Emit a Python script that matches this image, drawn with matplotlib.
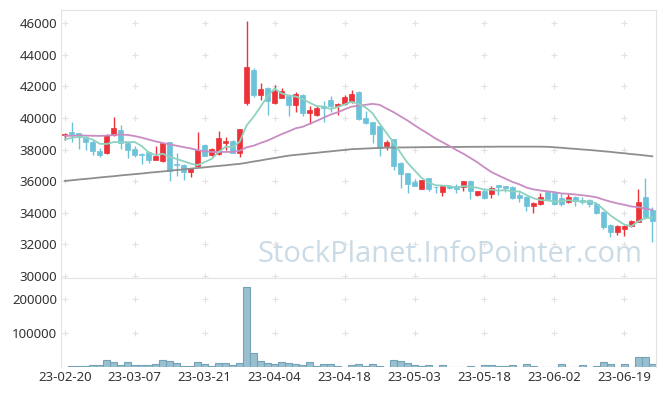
import numpy as np
import pandas as pd
import matplotlib
matplotlib.use('Agg')
import matplotlib.pyplot as plt

dates = ['23-02-20', '23-02-21', '23-02-22', '23-02-23', '23-02-24', '23-02-27', '23-02-28',
         '23-03-02', '23-03-03', '23-03-06', '23-03-07', '23-03-08', '23-03-09', '23-03-10',
         '23-03-13', '23-03-14', '23-03-15', '23-03-16', '23-03-17', '23-03-20', '23-03-21',
         '23-03-22', '23-03-23', '23-03-24', '23-03-27', '23-03-28', '23-03-29', '23-03-30',
         '23-03-31', '23-04-03', '23-04-04', '23-04-05', '23-04-06', '23-04-07', '23-04-10',
         '23-04-11', '23-04-12', '23-04-13', '23-04-14', '23-04-17', '23-04-18', '23-04-19',
         '23-04-20', '23-04-21', '23-04-24', '23-04-25', '23-04-26', '23-04-27', '23-04-28',
         '23-05-02', '23-05-03', '23-05-04', '23-05-08', '23-05-09', '23-05-10', '23-05-11',
         '23-05-12', '23-05-15', '23-05-16', '23-05-17', '23-05-18', '23-05-19', '23-05-22',
         '23-05-23', '23-05-24', '23-05-25', '23-05-26', '23-05-30', '23-05-31', '23-06-01',
         '23-06-02', '23-06-05', '23-06-07', '23-06-08', '23-06-09', '23-06-12', '23-06-13',
         '23-06-14', '23-06-15', '23-06-16', '23-06-19', '23-06-20', '23-06-21', '23-06-22',
         '23-06-23']

opens = [38900, 39100, 39040, 38800, 38500, 37920, 37800, 38930, 39250, 38450,
         38050, 37750, 37830, 37350, 37300, 38480, 37070, 37010, 36610, 36970,
         38300, 37680, 37730, 38400, 38570, 37780, 40950, 43050, 41460, 41920,
         40980, 41290, 41420, 40830, 41460, 40340, 40200, 40760, 41120, 40780,
         40880, 41040, 41670, 40030, 39730, 39500, 38230, 38680, 37160, 36520,
         35980, 35540, 36190, 35660, 35340, 35720, 35720, 35660, 36020, 35120,
         35390, 35200, 35770, 35700, 35620, 35130, 35000, 34460, 34560, 35340,
         35280, 34920, 34710, 35000, 34820, 34800, 34560, 34040, 33230, 32810,
         33000, 33170, 33450, 35020, 34180]
highs = [39050, 39770, 39060, 38850, 38600, 38100, 39000, 40050, 39550, 38500,
         38200, 37780, 37900, 38250, 38450, 38500, 37810, 37080, 36870, 39100,
         38350, 38100, 39180, 38780, 38600, 39330, 46150, 43150, 42200, 41950,
         42100, 41890, 41450, 41630, 41500, 40790, 40750, 41080, 41400, 40950,
         41450, 41760, 41700, 40450, 39750, 39550, 38620, 38700, 37200, 36550,
         36130, 36100, 36220, 35700, 35720, 35780, 35800, 36030, 36050, 35400,
         35560, 35700, 35790, 35720, 35680, 35300, 35050, 34700, 35240, 35400,
         35400, 35240, 35180, 35050, 35020, 34900, 34600, 34100, 33300, 33200,
         33250, 33550, 35500, 36190, 34400]
lows = [38600, 38510, 38020, 38000, 37660, 37530, 37720, 38880, 38050, 37500,
        37520, 37100, 37140, 37330, 37250, 36020, 36350, 36050, 36250, 36900,
        37580, 37620, 37650, 38000, 37800, 37560, 40830, 41350, 41150, 40200,
        40870, 41250, 40150, 40370, 40150, 39610, 40150, 39740, 40400, 40200,
        40800, 40950, 39900, 39600, 38400, 37600, 37960, 36720, 35560, 35240,
        35700, 35480, 35400, 35240, 35070, 35500, 35240, 35390, 34880, 35050,
        34900, 34960, 35130, 35340, 34850, 34710, 34140, 34010, 34500, 34850,
        34500, 34440, 34650, 34440, 34550, 34400, 33950, 32980, 32490, 32600,
        32540, 33100, 33400, 33700, 32180]
closes = [39000, 38990, 38780, 38470, 37940, 37680, 38930, 39400, 38400, 38000,
          37680, 37650, 37350, 37600, 38420, 36680, 37010, 36610, 36840, 37980,
          37620, 38040, 38760, 38570, 37810, 39310, 43250, 41460, 41840, 41080,
          41720, 41710, 40830, 41500, 40300, 40510, 40660, 40660, 40770, 40890,
          41340, 41500, 39950, 39710, 39010, 38090, 38490, 36970, 36460, 35830,
          35720, 36080, 35500, 35620, 35700, 35600, 35540, 36020, 35390, 35390,
          34960, 35600, 35660, 35600, 34960, 34960, 34460, 34650, 35000, 34880,
          34560, 34560, 35000, 34750, 34710, 34550, 34010, 33130, 32810, 33170,
          33170, 33490, 34670, 33760, 33490]
volumes = [2000, 5000, 5000, 5000, 8000, 8000, 21600, 16700, 8000, 16700,
           8000, 8000, 8000, 10800, 22500, 19600, 13700, 5000, 5000, 16700,
           10800, 5000, 13700, 13700, 8000, 13700, 237000, 43000, 19600, 13700,
           10800, 16700, 13700, 10800, 8000, 16700, 5000, 10800, 10800, 5000,
           2000, 7000, 10000, 5000, 10000, 5000, 2000, 21600, 19600, 13700,
           8000, 5000, 7000, 2000, 7000, 2000, 800, 2000, 5000, 2000,
           7000, 7000, 5000, 5000, 7000, 2000, 10000, 5000, 2000, 2000,
           2000, 10000, 2000, 800, 7000, 2000, 5000, 16700, 10000, 2000,
           10000, 2000, 31400, 31400, 10000]

# moving averages: first days depend on closes before the window
ma5_head = [38650, 38750, 38820, 38760]
ma20_head = [38870, 38880, 38900, 38890, 38880, 38870, 38890, 38930, 38960, 38930,
             38860, 38760, 38640, 38520, 38420, 38330, 38250, 38160, 38080]
ma120 = [36020, 36060, 36110, 36150, 36190, 36240, 36280, 36320, 36370, 36410,
         36450, 36490, 36540, 36580, 36620, 36670, 36710, 36750, 36800, 36840,
         36880, 36930, 36970, 37010, 37060, 37100, 37170, 37250, 37320, 37400,
         37470, 37550, 37620, 37670, 37710, 37760, 37800, 37850, 37890, 37940,
         37980, 38030, 38050, 38070, 38090, 38110, 38130, 38135, 38140, 38145,
         38150, 38155, 38160, 38165, 38170, 38170, 38170, 38175, 38180, 38180,
         38185, 38185, 38190, 38190, 38190, 38190, 38190, 38190, 38190, 38180,
         38150, 38120, 38080, 38050, 38010, 37980, 37940, 37900, 37860, 37810,
         37770, 37720, 37680, 37630, 37580]

c = pd.Series(closes, dtype=float)
ma5 = c.rolling(5).mean().values
ma5[:4] = ma5_head
ma20 = c.rolling(20).mean().values
ma20[:19] = ma20_head

x = np.arange(len(dates))
o = np.array(opens)
cl = np.array(closes)
up = cl >= o

red = '#ec3239'
blue = '#6cc3d9'
plt.rcParams['font.family'] = ['Noto Sans', 'DejaVu Sans']

fig = plt.figure(figsize=(6.65, 3.96), dpi=100)
ax = fig.add_axes([0.0922, 0.2972, 0.8940, 0.6768])
axv = fig.add_axes([0.0922, 0.0725, 0.8940, 0.2247])

# candles
cols = np.where(up, red, blue)
body_lo = np.minimum(o, cl)
body_h = np.maximum(np.abs(cl - o), 40)
ax.vlines(x, lows, highs, colors=cols, lw=1, zorder=2)
ax.bar(x, body_h, bottom=body_lo, width=0.72, color=cols, edgecolor=cols, lw=0.5, zorder=3)

ax.plot(x, ma120, color='#8e8e8e', lw=1.3, zorder=4)
ax.plot(x, ma20, color='#c98cc3', lw=1.3, zorder=4)
ax.plot(x, ma5, color='#8fd2c0', lw=1.3, zorder=4)

ax.set_xlim(-0.5, len(dates) - 0.5)
ax.set_ylim(29855, 46823)
yt = np.arange(30000, 46001, 2000)
ax.set_yticks(yt)
ax.set_xticks([])
xt = x[::10]
gx, gy = np.meshgrid(xt, yt)
ax.scatter(gx.ravel(), gy.ravel(), marker='+', s=16, color='#e2e2e2', lw=0.8, zorder=1)

ax.text(0.653, 0.087, 'StockPlanet.InfoPointer.com', transform=ax.transAxes,
        ha='center', va='center', fontsize=21, color='#cadbe6', family='Open Sans', zorder=0)

# volume
axv.bar(x, volumes, width=1.0, color='#98c0d0', edgecolor='#74a3b6', lw=0.8)
axv.set_xlim(-0.5, len(dates) - 0.5)
axv.set_ylim(0, 261765)
vt = [100000, 200000]
axv.set_yticks(vt)
axv.set_xticks(xt)
axv.set_xticklabels([dates[i] for i in xt])
gx, gy = np.meshgrid(xt, vt)
axv.scatter(gx.ravel(), gy.ravel(), marker='+', s=16, color='#e2e2e2', lw=0.8, zorder=0)

for a in (ax, axv):
    a.tick_params(length=0, labelsize=9.5, colors='#333333', pad=3)
    for s in a.spines.values():
        s.set_color('#e3e3e3')
axv.spines['bottom'].set_visible(False)

fig.savefig('out.png', dpi=100)
